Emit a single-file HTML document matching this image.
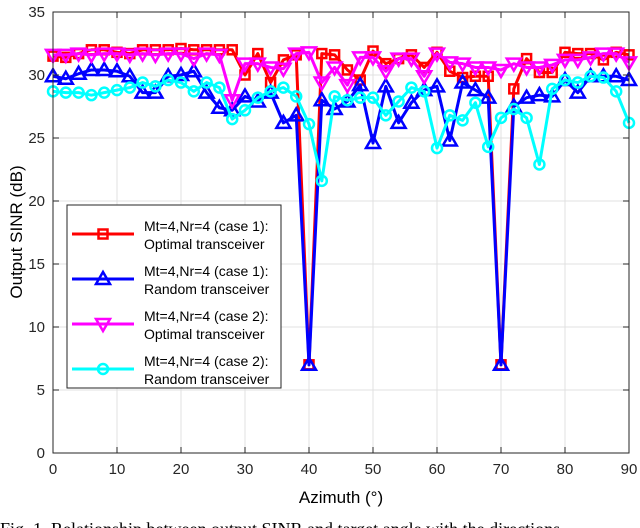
<!DOCTYPE html>
<html><head><meta charset="utf-8"><style>
body{margin:0;background:#fff;width:640px;height:528px;overflow:hidden}
svg{display:block;font-family:"Liberation Sans",sans-serif}
</style></head><body>
<svg width="640" height="528" viewBox="0 0 640 528" id="chart">
<g id="grid"></g>
<g id="series"></g>
<g id="axes"></g>
<text x="341" y="503" text-anchor="middle" font-size="17">Azimuth (°)</text>
<text transform="translate(22,232) rotate(-90)" text-anchor="middle" font-size="17">Output SINR (dB)</text>
<text x="0" y="535" font-family="Liberation Serif,serif" font-size="18">Fig. 1.   Relationship between output SINR and target angle with the directions</text>
<g id="legend"></g>
</svg>
<script>
const xTicks=[0,10,20,30,40,50,60,70,80,90];
const yTicks=[0,5,10,15,20,25,30,35];
const red=[31.5,31.4,31.7,32.0,32.0,31.8,31.7,32.0,32.0,32.0,32.1,32.0,32.0,32.0,32.0,30.0,31.7,29.4,31.2,31.6,7,31.7,31.6,30.4,29.6,31.9,30.9,31.3,31.6,30.6,31.8,30.3,29.8,29.9,29.9,7,28.9,31.3,30.2,30.2,31.8,31.7,31.7,31.2,31.8,31.6];
const blue=[29.9,29.7,30.1,30.4,30.4,30.3,29.9,28.6,28.6,29.9,30.0,30.3,28.6,27.4,27.2,28.3,27.9,28.6,26.2,26.8,7,28.0,27.3,27.9,29.2,24.6,29.1,26.2,27.8,28.8,29.1,24.8,29.4,28.8,28.2,7,27.5,28.2,28.4,28.3,29.6,28.6,29.9,29.9,29.9,29.6];
const magenta=[31.6,31.6,31.7,31.6,31.7,31.7,31.6,31.7,31.6,31.7,31.7,31.3,31.7,31.6,28.0,30.9,30.9,30.6,30.5,31.7,31.8,29.4,30.6,29.2,31.4,31.4,30.3,31.3,31.3,29.9,31.7,31.0,30.9,30.6,30.6,30.4,30.9,30.6,30.6,30.8,31.2,31.2,31.4,31.7,31.7,31.0];
const cyan=[28.7,28.6,28.6,28.4,28.6,28.8,29.0,29.4,29.1,29.6,29.4,28.7,29.4,29.0,26.5,27.2,28.2,28.7,29.0,28.3,26.1,21.6,28.3,28.0,28.2,28.2,26.8,27.9,29.0,28.7,24.2,26.8,26.4,27.8,24.3,26.6,27.3,26.6,22.9,28.9,29.6,29.4,29.9,29.8,28.7,26.2];
const angles=red.map((_,i)=>i*2);
const L=53,R=629,T=12,B=453;
const X=v=>L+(R-L)*v/90, Y=v=>B-(B-T)*v/35;
const NS="http://www.w3.org/2000/svg";
function mk(tag,attrs,parent){const e=document.createElementNS(NS,tag);for(const k in attrs)e.setAttribute(k,attrs[k]);parent.appendChild(e);return e;}
const grid=document.getElementById('grid'),axes=document.getElementById('axes'),ser=document.getElementById('series'),leg=document.getElementById('legend');
xTicks.forEach(t=>{mk('line',{x1:X(t),x2:X(t),y1:T,y2:B,stroke:'#e0e0e0','stroke-width':1},grid);
 mk('line',{x1:X(t),x2:X(t),y1:B,y2:B-6,stroke:'#262626'},axes);mk('line',{x1:X(t),x2:X(t),y1:T,y2:T+6,stroke:'#262626'},axes);
 const tx=mk('text',{x:X(t),y:B+21,'text-anchor':'middle','font-size':15,fill:'#262626'},axes);tx.textContent=t;
 
 });
yTicks.forEach(t=>{mk('line',{x1:L,x2:R,y1:Y(t),y2:Y(t),stroke:'#e0e0e0','stroke-width':1},grid);
 mk('line',{x1:L,x2:L+6,y1:Y(t),y2:Y(t),stroke:'#262626'},axes);mk('line',{x1:R,x2:R-6,y1:Y(t),y2:Y(t),stroke:'#262626'},axes);
 const tx=mk('text',{x:L-8,y:Y(t)+5,'text-anchor':'end','font-size':15,fill:'#262626'},axes);tx.textContent=t;
 
 });
mk('rect',{x:L,y:T,width:R-L,height:B-T,fill:'none',stroke:'#262626','stroke-width':1},axes);
function marker(type,x,y,c,p){
 if(type==='sq')return mk('rect',{x:x-4.5,y:y-4.5,width:9,height:9,fill:'none',stroke:c,'stroke-width':2.5},p);
 if(type==='up')return mk('polygon',{points:`${x},${y-7} ${x-7},${y+5} ${x+7},${y+5}`,fill:'none',stroke:c,'stroke-width':2.5},p);
 if(type==='dn')return mk('polygon',{points:`${x},${y+7} ${x-7},${y-5} ${x+7},${y-5}`,fill:'none',stroke:c,'stroke-width':2.5},p);
 return mk('circle',{cx:x,cy:y,r:5,fill:'none',stroke:c,'stroke-width':2.5},p);}
const defs=[[red,'#ff0000','sq','optimal-case1'],[blue,'#0000ff','up','random-case1'],[magenta,'#ff00ff','dn','optimal-case2'],[cyan,'#00ffff','ci','random-case2']];
defs.forEach(([d,c,m,n])=>{const g=mk('g',{},ser);
 
 
 mk('polyline',{points:d.map((v,i)=>X(angles[i])+','+Y(v)).join(' '),fill:'none',stroke:c,'stroke-width':3,'stroke-linejoin':'round'},g);
 d.forEach((v,i)=>{const e=marker(m,X(angles[i]),Y(v),c,g);
  
  });});
mk('rect',{x:67,y:205,width:214,height:183,fill:'#fff',stroke:'#262626','stroke-width':1},leg);
const labels=[['Mt=4,Nr=4 (case 1):','Optimal transceiver'],['Mt=4,Nr=4 (case 1):','Random transceiver'],['Mt=4,Nr=4 (case 2):','Optimal transceiver'],['Mt=4,Nr=4 (case 2):','Random transceiver']];
defs.forEach(([d,c,m,n],i)=>{const g=mk('g',{},leg);
 
 
 const yy=225+i*45;
 mk('line',{x1:72,x2:134,y1:yy+9,y2:yy+9,stroke:c,'stroke-width':3},g);marker(m,103,yy+9,c,g);
 const t1=mk('text',{x:144,y:yy+6,'font-size':14,fill:'#000'},g);t1.textContent=labels[i][0];
 const t2=mk('text',{x:144,y:yy+24,'font-size':14,fill:'#000'},g);t2.textContent=labels[i][1];});
</script>
</body></html>
